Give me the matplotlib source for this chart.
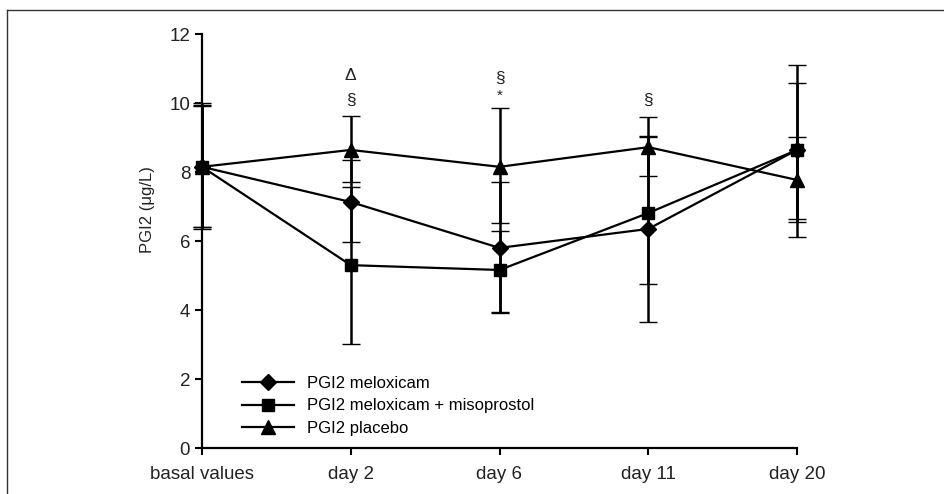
import matplotlib

matplotlib.use("Agg")
import matplotlib.pyplot as plt
from matplotlib.lines import Line2D

plt.rcParams["font.family"] = ["Liberation Sans", "DejaVu Sans"]

# data
timepoints = ["basal values", "day 2", "day 6", "day 11", "day 20"]

meloxicam = [8.15, 7.13, 5.80, 6.35, 8.64]
meloxicam_hi = [9.90, 8.35, 7.71, 9.05, 10.57]
meloxicam_lo = [6.35, 5.97, 3.95, 3.65, 6.64]

miso = [8.15, 5.30, 5.16, 6.81, 8.64]
miso_hi = [10.00, 7.57, 6.29, 9.01, 11.10]
miso_lo = [6.40, 3.02, 3.91, 4.75, 6.12]

placebo = [8.15, 8.64, 8.15, 8.72, 7.77]
placebo_hi = [9.95, 9.63, 9.85, 9.60, 9.01]
placebo_lo = [6.40, 7.70, 6.52, 7.88, 6.55]

# significance marks: (timepoint index, symbol, y position)
marks = [
    (1, "\u0394", 10.81),
    (1, "\u00a7", 10.09),
    (2, "\u00a7", 10.72),
    (2, "*", 10.20),
    (3, "\u00a7", 10.09),
]

series = [
    ("PGI2 meloxicam", meloxicam, meloxicam_lo, meloxicam_hi, "D", 8.5),
    ("PGI2 meloxicam + misoprostol", miso, miso_lo, miso_hi, "s", 9),
    ("PGI2 placebo", placebo, placebo_lo, placebo_hi, "^", 10),
]

fig = plt.figure(figsize=(9.44, 4.94), dpi=100)
ax = fig.add_axes([202 / 944, 46 / 494, 595 / 944, 414 / 494])

x = list(range(len(timepoints)))
for label, vals, lo, hi, marker, ms in series:
    yerr = [[v - l for v, l in zip(vals, lo)], [h - v for v, h in zip(vals, hi)]]
    _, caps, bars = ax.errorbar(x, vals, yerr=yerr, fmt="none", ecolor="black",
                                elinewidth=1.8, capsize=6.5, capthick=1.0, zorder=2)
    for cap in caps:
        cap.set_color("#666666")
        cap.set_clip_on(False)
    for bar in bars:
        bar.set_clip_on(False)
    ax.plot(x, vals, color="black", linewidth=1.6, marker=marker, markersize=ms,
            markerfacecolor="black", markeredgecolor="black", label=label, zorder=3,
            clip_on=False)

for i, sym, yv in marks:
    ax.text(i, yv, sym, ha="center", va="center",
            fontsize=12.5 if sym != "*" else 11, color="#222222")

ax.set_xlim(0, 4)
ax.set_ylim(0, 12)
ax.set_yticks([0, 2, 4, 6, 8, 10, 12])
ax.set_xticks(x)
ax.set_xticklabels(timepoints)
ax.tick_params(axis="both", labelsize=13.5, width=1.5, length=5, color="black",
               labelcolor="#222222")
ax.tick_params(axis="x", pad=8)
ax.set_ylabel("PGI2 (\u03bcg/L)", fontsize=12, color="#222222")
ax.yaxis.set_label_coords(-0.079, 0.575)

for side in ("top", "right"):
    ax.spines[side].set_visible(False)
for side in ("left", "bottom"):
    ax.spines[side].set_linewidth(1.6)

ax.legend(loc="upper left", bbox_to_anchor=(0.068, 0.175), frameon=False,
          fontsize=12, handlelength=3.1, handletextpad=0.8, labelspacing=0.47,
          borderpad=0, borderaxespad=0)

# thin frame round the figure panel (top and left edges visible)
fig.add_artist(Line2D([7 / 944, 1.0], [1 - 10 / 494, 1 - 10 / 494],
                      color="#333333", linewidth=1.0, transform=fig.transFigure))
fig.add_artist(Line2D([7 / 944, 7 / 944], [0.0, 1 - 10 / 494],
                      color="#333333", linewidth=1.0, transform=fig.transFigure))

fig.savefig("out.png", dpi=100, facecolor="white")
